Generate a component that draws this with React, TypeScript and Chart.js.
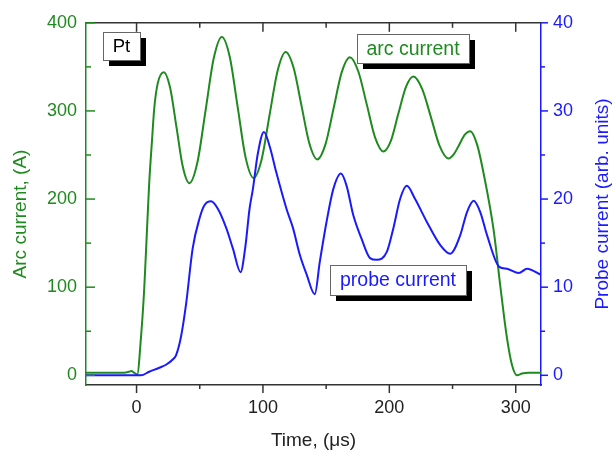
import React, { useEffect, useRef } from "react";
import { Chart, registerables } from "chart.js";

Chart.register(...registerables);

// ---- data ----
const ARC_TIME = [-40, -10, -6, -4, -2, 0.5, 3.5, 6.1, 8.25, 10, 12.2, 14, 16.7, 21.5, 26.6, 31.65, 36.7, 41.8, 48.2, 54.65, 61.1, 67.5, 73.8, 80.05, 86.3, 92.6, 98.95, 105.3, 111.65, 118, 124.25, 130.5, 136.75, 143, 149.45, 155.9, 162.35, 168.8, 175.4, 182.05, 188.7, 195.3, 201.2, 207.15, 213.1, 219, 225.95, 232.9, 239.85, 246.8, 251.1, 255.4, 259.7, 264, 269.4, 274.6, 282.5, 288, 293, 297, 301, 305, 310, 320];
const ARC_CURRENT = [3, 3, 4, 5, 3, 1, 43, 99, 165, 218, 266, 303, 331, 344, 326, 281, 236, 218, 242, 301, 360, 384, 361, 304, 247, 224, 245, 296, 346, 367, 349, 306, 263, 245, 262, 303, 344, 361, 345, 308, 270, 254, 266, 297, 327, 339, 325, 293, 260, 246, 251, 262, 273, 277, 262, 229, 165, 99, 43, 12, 0, 2, 3, 3];

const PROBE_TIME = [-40, 3.5, 10, 18, 23.3, 28.6, 31.3, 35.2, 39.2, 44.4, 49.8, 53.7, 59, 64.3, 71, 76.2, 82.3, 86, 89.4, 92, 96, 100.8, 105.3, 110.6, 118.6, 123.8, 129.1, 134.4, 141, 145, 150.3, 155.6, 161.7, 166.2, 171.5, 178, 184.7, 190, 198, 203.2, 208.5, 213.8, 220.4, 229.7, 240.2, 248.2, 256.1, 261.4, 266.7, 272, 277.3, 287, 293, 302.4, 309, 320];
const PROBE_CURRENT = [0, 0, 0.4, 0.86, 1.2, 1.8, 2.3, 4.4, 8.1, 14.4, 17.8, 19.3, 19.75, 18.9, 16.7, 14.4, 11.7, 14.5, 18.9, 21.1, 25.2, 27.6, 26, 23, 18.9, 16.7, 13.7, 11.5, 9.2, 12.9, 17.4, 21.1, 22.9, 21.5, 18.15, 15.5, 13.3, 13.1, 14, 16.7, 20, 21.5, 20, 17.4, 14.8, 13.8, 15.9, 18.5, 19.8, 18.5, 15.9, 12.3, 12.1, 11.6, 12.1, 11.4];

const X_TICKS = [0, 100, 200, 300];
const X_MINOR = [50, 150, 250];
const ARC_TICKS = [0, 100, 200, 300, 400];
const ARC_MINOR = [50, 150, 250, 350];
const PROBE_TICKS = [0, 10, 20, 30, 40];
const PROBE_MINOR = [5, 15, 25, 35];

const X_TITLE = "Time, (μs)";
const ARC_TITLE = "Arc current, (A)";
const PROBE_TITLE = "Probe current (arb. units)";

const LABELS = [
  { text: "Pt", color: "#000000" },
  { text: "arc current", color: "#1f8a1f" },
  { text: "probe current", color: "#1a1aff" },
];

const GREEN = "#1f8a1f";
const BLUE = "#1a1aff";
const DARK = "#222222";
const FONT = '"Liberation Sans", Arial, Helvetica, sans-serif';

const framePlugin = {
  id: "frame",
  afterDraw(chart: any) {
    const { ctx, chartArea: a, scales } = chart;
    const x = scales.x, ya = scales.yA, yp = scales.yP;
    ctx.save();
    ctx.lineWidth = 1.5;
    // top border
    ctx.strokeStyle = "#333333";
    ctx.beginPath();
    ctx.moveTo(a.left, a.top);
    ctx.lineTo(a.right, a.top);
    ctx.stroke();
    const seg = (x1: number, y1: number, x2: number, y2: number) => {
      ctx.beginPath();
      ctx.moveTo(x1, y1);
      ctx.lineTo(x2, y2);
      ctx.stroke();
    };
    // bottom ticks outward, top ticks inward
    X_TICKS.forEach((v) => {
      const p = x.getPixelForValue(v);
      seg(p, a.bottom, p, a.bottom + 8);
      seg(p, a.top, p, a.top + 9);
    });
    X_MINOR.forEach((v) => {
      const p = x.getPixelForValue(v);
      seg(p, a.bottom, p, a.bottom + 4);
      seg(p, a.top, p, a.top + 5);
    });
    // left ticks inward
    ctx.strokeStyle = GREEN;
    ARC_TICKS.forEach((v) => {
      const p = ya.getPixelForValue(v);
      seg(a.left, p, a.left + 9, p);
    });
    ARC_MINOR.forEach((v) => {
      const p = ya.getPixelForValue(v);
      seg(a.left, p, a.left + 5, p);
    });
    // right ticks outward
    ctx.strokeStyle = BLUE;
    PROBE_TICKS.forEach((v) => {
      const p = yp.getPixelForValue(v);
      seg(a.right, p, a.right + 7, p);
    });
    PROBE_MINOR.forEach((v) => {
      const p = yp.getPixelForValue(v);
      seg(a.right, p, a.right + 4, p);
    });

    // axis titles
    ctx.textAlign = "center";
    ctx.textBaseline = "middle";
    ctx.font = `19px ${FONT}`;
    ctx.fillStyle = DARK;
    ctx.fillText(X_TITLE, (a.left + a.right) / 2, 441);
    ctx.save();
    ctx.translate(21, 214);
    ctx.rotate(-Math.PI / 2);
    ctx.fillStyle = GREEN;
    ctx.fillText(ARC_TITLE, 0, 0);
    ctx.restore();
    ctx.save();
    ctx.translate(603, 204);
    ctx.rotate(-Math.PI / 2);
    ctx.fillStyle = BLUE;
    ctx.fillText(PROBE_TITLE, 0, 0);
    ctx.restore();

    // annotation boxes
    const boxes = [
      { ...LABELS[0], l: 103, t: 32, w: 37, h: 28, size: 18.5 },
      { ...LABELS[1], l: 357, t: 34, w: 112, h: 29, size: 19.5 },
      { ...LABELS[2], l: 330, t: 265, w: 136, h: 30, size: 19.5 },
    ];
    boxes.forEach((b) => {
      ctx.fillStyle = "#000000";
      ctx.fillRect(b.l + 6, b.t + 6, b.w, b.h);
      ctx.fillStyle = "#ffffff";
      ctx.fillRect(b.l, b.t, b.w, b.h);
      ctx.strokeStyle = "#666666";
      ctx.lineWidth = 1;
      ctx.strokeRect(b.l + 0.5, b.t + 0.5, b.w, b.h);
      ctx.fillStyle = b.color;
      ctx.font = `${b.size}px ${FONT}`;
      ctx.textAlign = "center";
      ctx.textBaseline = "middle";
      ctx.fillText(b.text, b.l + b.w / 2, b.t + b.h / 2 + 1);
    });
    ctx.restore();
  },
};

export default function App() {
  const ref = useRef<HTMLCanvasElement | null>(null);
  useEffect(() => {
    if (!ref.current) return;
    Chart.defaults.font.family = FONT;
    const chart = new Chart(ref.current, {
      type: "line",
      data: {
        datasets: [
          {
            label: "arc current",
            data: ARC_TIME.map((t, i) => ({ x: t, y: ARC_CURRENT[i] })),
            borderColor: GREEN,
            borderWidth: 2,
            pointRadius: 0,
            cubicInterpolationMode: "monotone",
            yAxisID: "yA",
            order: 1,
          },
          {
            label: "probe current",
            data: PROBE_TIME.map((t, i) => ({ x: t, y: PROBE_CURRENT[i] })),
            borderColor: BLUE,
            borderWidth: 2,
            pointRadius: 0,
            cubicInterpolationMode: "monotone",
            yAxisID: "yP",
            order: 0,
          },
        ],
      },
      options: {
        responsive: false,
        animation: false,
        layout: { padding: { top: 16.5, left: 0, right: 0, bottom: 0 } },
        plugins: { legend: { display: false }, tooltip: { enabled: false } },
        scales: {
          x: {
            type: "linear",
            position: "bottom",
            min: -40,
            max: 320,
            afterBuildTicks: (s: any) => { s.ticks = X_TICKS.map((v) => ({ value: v })); },
            afterFit: (s: any) => { s.height = 76; },
            grid: { display: false, drawTicks: false },
            border: { display: true, color: "#333333", width: 1.5 },
            ticks: { color: DARK, font: { size: 18 }, padding: 12, maxRotation: 0 },
            title: { display: false },
          },
          yA: {
            type: "linear",
            position: "left",
            min: -11,
            max: 400,
            afterBuildTicks: (s: any) => { s.ticks = ARC_TICKS.map((v) => ({ value: v })); },
            afterFit: (s: any) => { s.width = 86; },
            grid: { display: false, drawTicks: false },
            border: { display: true, color: GREEN, width: 1.5 },
            ticks: { color: GREEN, font: { size: 18 }, padding: 9 },
            title: { display: false },
          },
          yP: {
            type: "linear",
            position: "right",
            min: -1.1,
            max: 40,
            afterBuildTicks: (s: any) => { s.ticks = PROBE_TICKS.map((v) => ({ value: v })); },
            afterFit: (s: any) => { s.width = 75; },
            grid: { display: false, drawTicks: false },
            border: { display: true, color: BLUE, width: 1.5 },
            ticks: { color: BLUE, font: { size: 18 }, padding: 12 },
            title: { display: false },
          },
        },
      },
      plugins: [framePlugin],
    } as any);
    return () => chart.destroy();
  }, []);
  return (
    <div style={{ position: "fixed", left: 0, top: 0, width: 616, height: 461, background: "#ffffff" }}>
      <canvas ref={ref} width={616} height={461} style={{ display: "block" }} />
    </div>
  );
}
